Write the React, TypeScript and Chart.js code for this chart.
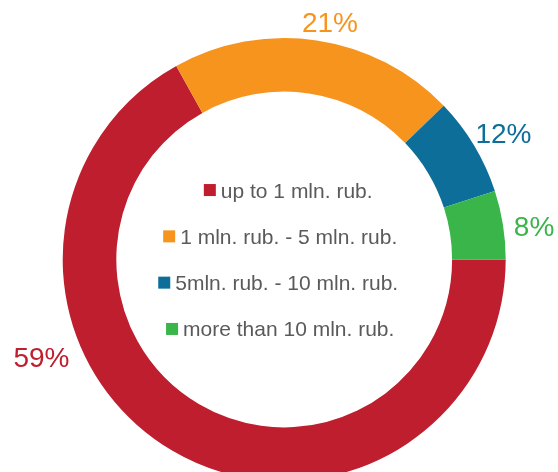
import React, { useEffect, useRef } from "react";
import { Chart, registerables } from "chart.js";

Chart.register(...registerables);

const categories = [
  "up to 1 mln. rub.",
  "1 mln. rub. - 5 mln. rub.",
  "5mln. rub. - 10 mln. rub.",
  "more than 10 mln. rub.",
];
// arc sizes as drawn in the picture
const values = [66.9, 20.9, 7.2, 5.0];
// percentage texts as printed on the picture
const percentLabels = ["59%", "21%", "12%", "8%"];
const colors = ["#BE1E2D", "#F7941E", "#0C6E99", "#3AB54A"];

// where each percentage text sits: angle (deg, clockwise from top) and distance as fraction of outer radius
const labelAngles = [248.1, 10.9, 60.1, 82.4];
const labelDistances = [1.181, 1.092, 1.142, 1.138];
// small horizontal nudges of legend rows (px)
const legendShift = [8, 0, -2, 0];

const FONT = "'Liberation Sans', Arial, Helvetica, sans-serif";

const overlayPlugin = {
  id: "overlay",
  afterDraw(chart: any) {
    const meta = chart.getDatasetMeta(0);
    const arc = meta.data[0];
    if (!arc) return;
    const { x: cx, y: cy, outerRadius } = arc.getProps(["x", "y", "outerRadius"], true);
    const ctx = chart.ctx as CanvasRenderingContext2D;
    ctx.save();
    // percentage labels
    const pSize = 28;
    ctx.font = `${pSize}px ${FONT}`;
    ctx.textAlign = "center";
    ctx.textBaseline = "alphabetic";
    percentLabels.forEach((t, i) => {
      const a = (labelAngles[i] * Math.PI) / 180;
      const r = outerRadius * labelDistances[i];
      const x = cx + r * Math.sin(a);
      const y = cy - r * Math.cos(a);
      ctx.fillStyle = colors[i];
      ctx.fillText(t, x, y + pSize * 0.358);
    });
    // center legend
    const lSize = 21;
    const box = 12;
    const gap = 5;
    const rowH = 46.3;
    ctx.font = `${lSize}px ${FONT}`;
    ctx.textAlign = "left";
    categories.forEach((t, i) => {
      const rowY = cy + (i - (categories.length - 1) / 2) * rowH;
      const w = box + gap + ctx.measureText(t).width;
      const left = cx - 4 - w / 2 + legendShift[i];
      ctx.fillStyle = colors[i];
      ctx.fillRect(left, rowY - box / 2, box, box);
      ctx.fillStyle = "#5a5a5a";
      ctx.fillText(t, left + box + gap, rowY + lSize * 0.358);
    });
    ctx.restore();
  },
};

export default function App() {
  const ref = useRef<HTMLCanvasElement | null>(null);
  useEffect(() => {
    if (!ref.current) return;
    const chart = new Chart(ref.current, {
      type: "doughnut",
      data: {
        labels: categories,
        datasets: [
          {
            data: values,
            backgroundColor: colors,
            borderWidth: 0,
            clip: false as any,
            rotation: 90,
            radius: 221.5,
            cutout: "75.8%",
          } as any,
        ],
      },
      options: {
        animation: false,
        responsive: false,
        maintainAspectRatio: false,
        devicePixelRatio: 1,
        layout: { padding: { left: 10.4, right: 0, top: 47, bottom: 0 } },
        plugins: {
          legend: { display: false },
          tooltip: { enabled: false },
        },
      } as any,
      plugins: [overlayPlugin],
    });
    return () => chart.destroy();
  }, []);
  return (
    <div style={{ position: "absolute", left: 0, top: 0, width: 558, height: 472, overflow: "hidden" }}>
      <canvas ref={ref} width={558} height={472} style={{ width: 558, height: 472, display: "block" }} />
    </div>
  );
}
